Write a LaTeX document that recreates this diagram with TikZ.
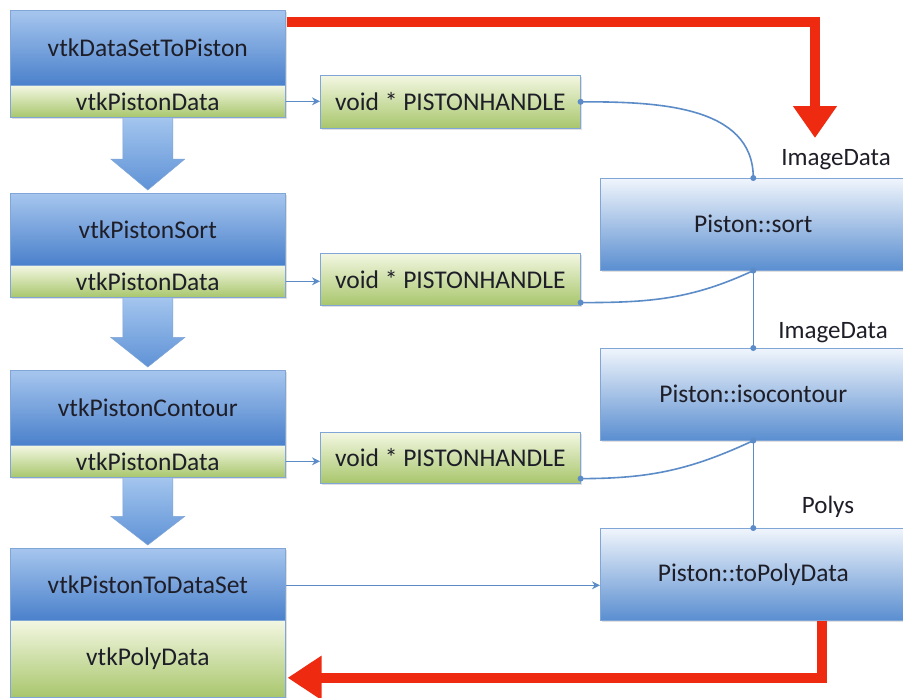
\documentclass[tikz,border=0pt]{standalone}
\usepackage{fontspec}
\setmainfont{Carlito}
\usetikzlibrary{arrows.meta,calc,shadows}
\definecolor{bluetop}{HTML}{A6C6EE}
\definecolor{bluebot}{HTML}{4A80CB}
\definecolor{greentop}{HTML}{F3F7E2}
\definecolor{greenbot}{HTML}{A8C66C}
\definecolor{rtop}{HTML}{F0F5FC}
\definecolor{rbot}{HTML}{5A8ED0}
\definecolor{edgec}{HTML}{7FA6D6}
\definecolor{conn}{HTML}{5C8CC8}
\definecolor{redar}{HTML}{EE2A10}
\definecolor{fattop}{HTML}{A3C5EE}
\definecolor{fatbot}{HTML}{5F92D6}
\definecolor{txt}{HTML}{1E1E28}
\begin{document}
\begin{tikzpicture}[x=1pt,y=-1pt,
  base/.style={draw=edgec, line width=0.6pt, inner sep=0pt, anchor=north west,
    text=txt, font=\fontsize{25.5}{30}\selectfont,
    general shadow={shadow xshift=1.5pt, shadow yshift=-2pt, fill=black, opacity=0.12}},
  bluebox/.style={base, top color=bluetop, bottom color=bluebot, minimum width=275pt},
  greenbox/.style={base, top color=greentop, bottom color=greenbot, minimum width=275pt},
  handlebox/.style={base, top color=greentop, bottom color=greenbot, minimum width=260pt},
  rightbox/.style={base, top color=rtop, bottom color=rbot, minimum width=306pt, minimum height=92pt},
  thin/.style={draw=conn, line width=1.6pt},
  thinarrow/.style={thin, -{Stealth[length=8pt,width=8pt]}},
  dot/.style={fill=conn},
  redline/.style={draw=redar, line width=10pt},
  fat/.style={top color=fattop, bottom color=fatbot, draw=edgec, line width=0.5pt},
  lbl/.style={font=\fontsize{25}{30}\selectfont, text=txt}
]
\useasboundingbox (0,0) rectangle (903,697);
\clip (0,0) rectangle (903,697);
\fill[white] (0,0) rectangle (903,697);

% left column
\node[bluebox, minimum height=75pt] (b1) at (10,10) {vtkDataSetToPiston};
\node[greenbox, minimum height=32pt] (g1) at (10,85) {vtkPistonData};
\node[bluebox, minimum height=72pt] (b2) at (10,193) {vtkPistonSort};
\node[greenbox, minimum height=32pt] (g2) at (10,265) {vtkPistonData};
\node[bluebox, minimum height=75pt] (b3) at (10,370) {vtkPistonContour};
\node[greenbox, minimum height=32pt] (g3) at (10,445) {vtkPistonData};
\node[bluebox, minimum height=72pt] (b4) at (10,548) {vtkPistonToDataSet};
\node[greenbox, minimum height=77pt] (g4) at (10,620) {vtkPolyData};

% handles
\node[handlebox, minimum height=53pt] (h1) at (320,75) {void * PISTONHANDLE};
\node[handlebox, minimum height=52pt] (h2) at (320,253) {void * PISTONHANDLE};
\node[handlebox, minimum height=51pt] (h3) at (320,432) {void * PISTONHANDLE};

% right column
\node[rightbox] (sort) at (600,178) {Piston::sort};
\node[rightbox] (iso) at (600,348) {Piston::isocontour};
\node[rightbox] (poly) at (600,528) {Piston::toPolyData};

% labels
\node[lbl] (l1) at (836,160) {ImageData};
\node[lbl] (l2) at (833,333) {ImageData};
\node[lbl] (l3) at (828,507) {Polys};

% fat arrows
\foreach \a/\b in {g1/b2, g3/b4, g2/b3}{
  \path[fat] ($(\a.south)+(-25,0)$) -- ($(\a.south)+(25,0)$) -- ($(\a.south)!0.55!(\b.north)+(25,0)$)
    -- ($(\a.south)!0.55!(\b.north)+(37,0)$) -- ($(\b.north)+(0,-3)$)
    -- ($(\a.south)!0.55!(\b.north)+(-37,0)$) -- ($(\a.south)!0.55!(\b.north)+(-25,0)$) -- cycle;
}

% thin arrows left -> handles
\draw[thinarrow] (g1.east) -- (g1.east -| h1.west);
\draw[thinarrow] (g2.east) -- (g2.east -| h2.west);
\draw[thinarrow] (g3.east) -- (g3.east -| h3.west);
\draw[thinarrow] ($(b4.east)+(0,1)$) -- ($(b4.east -| poly.west)+(0,1)$);

% connection points
\coordinate (c1) at (h1.east);
\coordinate (c2) at ($(h2.south east)+(0,-3)$);
\coordinate (c3) at ($(h3.south east)+(0,-5)$);

\draw[thin] (c1) to[out=0,in=90] (sort.north);
\draw[thin] (sort.south) to[out=205,in=0] (c2);
\draw[thin] (sort.south) -- (iso.north);
\draw[thin] (iso.south) to[out=205,in=0] (c3);
\draw[thin] (iso.south) -- (poly.north);

\foreach \p in {c1,c2,c3,sort.north,sort.south,iso.north,iso.south,poly.north}
  \fill[dot] (\p) circle (3pt);

% red arrows
\coordinate (r1) at ($(b1.north east)+(1,12)$);
\coordinate (r2) at (815,138);
\draw[redline, -{Triangle[length=32pt,width=42pt]}] (r1) -| (r2);
\coordinate (r3) at ($(poly.south)+(69,0)$);
\coordinate (r4) at ($(g4.east)+(2,19)$);
\draw[redline, -{Triangle[length=34pt,width=42pt]}] (r3) |- (r4);
\end{tikzpicture}
\end{document}
